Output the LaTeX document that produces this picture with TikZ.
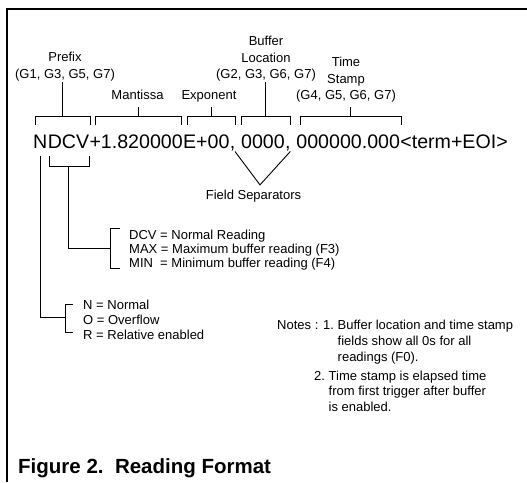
\documentclass[tikz,border=0pt]{standalone}
\usepackage{fontspec}
\setmainfont{Liberation Sans}
\usetikzlibrary{calc}
\newcommand\upbr[3]{%
  \draw[ln] (#1 |- yTick) -- (#1 |- yTop) -- (#2 |- yTop) -- (#2 |- yTick);
  \coordinate (#3) at ($(#1 |- yTop)!0.5!(#2 |- yTop)$);}
\begin{document}
\begin{tikzpicture}[x=1pt,y=-1pt,
  maintxt/.style={font=\fontsize{19.6}{23}\selectfont, inner sep=0pt, anchor=base west},
  lbl/.style={font=\fontsize{13}{16}\selectfont, inner sep=0pt, anchor=base},
  txt/.style={font=\fontsize{13}{16}\selectfont, inner sep=0pt, anchor=base west},
  ln/.style={line width=0.9pt, black},
  frame/.style={line width=2pt, black}]
\useasboundingbox (0,0) rectangle (527,482);
% frame
\draw[frame] (7,482) -- (7,8.5) -- (527,8.5);
% main reading line
\node[maintxt] (tN) at (33,148) {N};
\node[maintxt] (tDCV) at (tN.base east) {DCV};
\node[maintxt] (tMan) at (tDCV.base east) {+1.820000};
\node[maintxt] (tExp) at (tMan.base east) {E+00};
\node[maintxt] (tC1) at (tExp.base east) {,};
\node[maintxt] (tBuf) at ([xshift=5.45pt]tC1.base east) {0000};
\node[maintxt] (tC2) at (tBuf.base east) {,};
\node[maintxt] (tTime) at ([xshift=5.45pt]tC2.base east) {000000.000};
\node[maintxt] (tEnd) at (tTime.base east) {\textless term+EOI\textgreater};
% upper brackets
\coordinate (yTop) at (0,116.7);
\coordinate (yTick) at (0,125);
\coordinate (pL) at ([xshift=2pt]tN.base west);
\coordinate (pR) at ([xshift=0.8pt]tDCV.base east);
\coordinate (mL) at ([xshift=6.5pt]tMan.base west);
\coordinate (mR) at ([xshift=-1.7pt]tMan.base east);
\coordinate (eL) at ([xshift=4.3pt]tExp.base west);
\coordinate (eR) at ([xshift=-0.2pt]tC1.base east);
\coordinate (bL) at ([xshift=0.4pt]tBuf.base west);
\coordinate (bR) at ([xshift=-0.7pt]tC2.base east);
\coordinate (sL) at ([xshift=3.8pt]tTime.base west);
\coordinate (sR) at ([xshift=1pt]tTime.base east);
\upbr{pL}{pR}{mPre}
\upbr{mL}{mR}{mMan}
\upbr{eL}{eR}{mExp}
\upbr{bL}{bR}{mBuf}
\upbr{sL}{sR}{mTim}
% labels
\node[lbl] (lPre1) at (65,61.3) {Prefix};
\node[lbl] (lPre2) at (65,78) {(G1, G3, G5, G7)};
\node[lbl] (lMan) at (137.5,99.5) {Mantissa};
\node[lbl] (lExp) at (209,99.5) {Exponent};
\node[lbl] (lBuf1) at (266,45.8) {Buffer};
\node[lbl] (lBuf2) at (266,62) {Location};
\node[lbl] (lBuf3) at (266,78) {(G2, G3, G6, G7)};
\node[lbl] (lTim1) at (346,66.3) {Time};
\node[lbl] (lTim2) at (346,83) {Stamp};
\node[lbl] (lTim3) at (346,99.5) {(G4, G5, G6, G7)};
% stems
\coordinate (sPre) at ([yshift=-4pt]lPre2.base);
\coordinate (sMan) at ([yshift=-7.5pt]lMan.base);
\coordinate (sExp) at ([yshift=-7.5pt]lExp.base);
\coordinate (sBuf) at ([yshift=-4pt]lBuf3.base);
\coordinate (sTim) at ([yshift=-7.5pt]lTim3.base);
\draw[ln] (mPre) -- (mPre |- sPre);
\draw[ln] (mMan) -- (mMan |- sMan);
\draw[ln] (mExp) -- (mExp |- sExp);
\draw[ln] (mBuf) -- (mBuf |- sBuf);
\draw[ln] (mTim) -- (mTim |- sTim);
% field separators
\node[lbl] (fs) at (253.5,199) {Field Separators};
\coordinate (s1) at ([xshift=-0.5pt,yshift=-3.5pt]tC1.base east);
\coordinate (s2) at ([xshift=-0.5pt,yshift=-3.5pt]tC2.base east);
\coordinate (apex) at ([xshift=6.5pt,yshift=4.5pt]fs.north);
\draw[ln] (s1) -- (apex) -- (s2);
% lower brackets
\coordinate (yLt) at (0,155.7);
\coordinate (yLb) at (0,166.7);
\coordinate (dL) at ([xshift=2pt]tDCV.base west);
\coordinate (dR) at ([xshift=0.5pt]tDCV.base east);
\coordinate (dM) at (tDCV.base);
\draw[ln] (dL |- yLt) -- (dL |- yLb) -- (dR |- yLb) -- (dR |- yLt);
% DCV group
\node[txt] (g1a) at (129,239) {DCV = Normal Reading};
\node[txt] (g1b) at (129,253.2) {MAX = Maximum buffer reading (F3)};
\node[txt] (g1c) at (129,267.4) {MIN\ \ = Minimum buffer reading (F4)};
\coordinate (g1top) at (110.7,228.3);
\coordinate (g1bot) at (110.7,268);
\coordinate (g1mid) at (110.7,248.3);
\draw[ln] ([xshift=9.3pt]g1top) -- (g1top) -- (g1bot) -- ([xshift=9.3pt]g1bot);
\draw[ln] (dM |- yLb) -- (dM |- g1mid) -- (g1mid);
% N group
\node[txt] (g2a) at (83,309.7) {N = Normal};
\node[txt] (g2b) at (83,324.7) {O = Overflow};
\node[txt] (g2c) at (83,339.7) {R = Relative enabled};
\coordinate (g2top) at (65,304);
\coordinate (g2bot) at (65,332.3);
\coordinate (g2mid) at (65,317.3);
\draw[ln] ([xshift=8pt]g2top) -- (g2top) -- (g2bot) -- ([xshift=8pt]g2bot);
\draw[ln] (tN.base |- yLt) -- (tN.base |- g2mid) -- (g2mid);
% notes
\node[txt] (n0) at (277,329.5) {Notes : 1.};
\node[txt] (n11) at (337.5,329.5) {Buffer location and time stamp};
\node[txt] (n12) at (337.5,345.3) {fields show all 0s for all};
\node[txt] (n13) at (337.5,361) {readings (F0).};
\node[txt] (n20) at (314,380) {2.};
\node[txt] (n21) at (328.5,380) {Time stamp is elapsed time};
\node[txt] (n22) at (328.5,395.8) {from first trigger after buffer};
\node[txt] (n23) at (328.5,411.6) {is enabled.};
% title
\node[anchor=base west, inner sep=0pt, font=\bfseries\fontsize{20.5}{24}\selectfont] (title) at (18,473) {Figure 2.\ \ Reading Format};
\end{tikzpicture}
\end{document}
